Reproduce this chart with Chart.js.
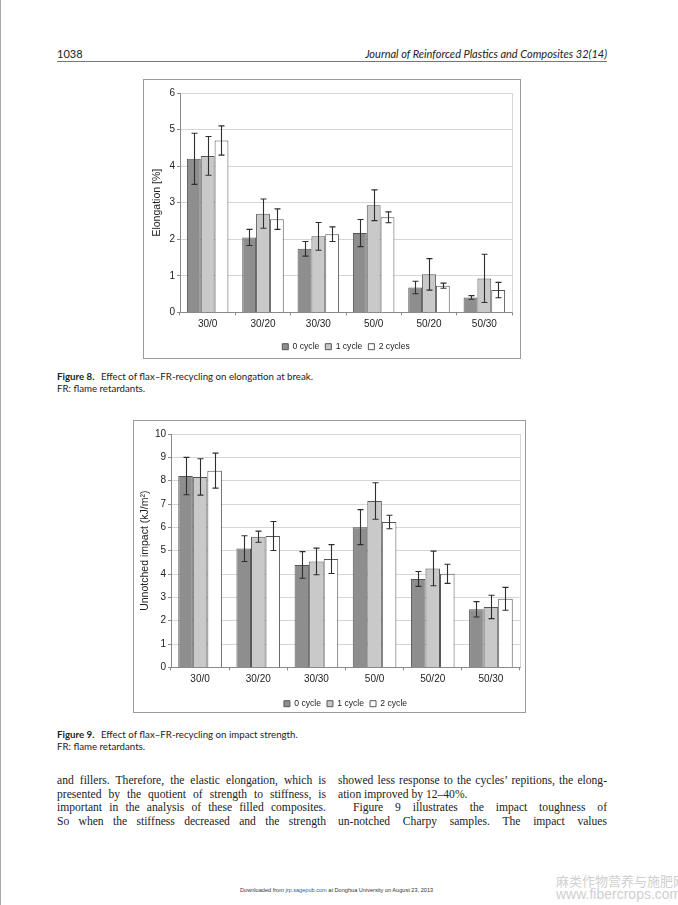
<!DOCTYPE html>
<html>
<head>
<meta charset="utf-8">
<title>Figures 8 and 9</title>
<script src="https://cdn.jsdelivr.net/npm/chart.js@4.4.0/dist/chart.umd.min.js"></script>
<style>
  body { margin: 0; width: 678px; height: 905px; background: #fff; position: relative; overflow: hidden; }
  .abs { position: absolute; }
  .edge { left: 0; top: 0; width: 1px; height: 905px; background: #aaa; }
  .head { top: 47px; font-family: Lato, "Open Sans", sans-serif; font-size: 11px; color: #222; white-space: nowrap; }
  .rule { left: 57px; top: 61px; width: 550px; height: 1px; background: #777; }
  .frame { border: 1px solid #9a9a9a; box-sizing: border-box; }
  .cap { left: 57px; font-family: Lato, "Open Sans", sans-serif; font-size: 9.7px; line-height: 11.5px; color: #222; white-space: nowrap; }
  .cap b { font-weight: bold; margin-right: 4px; }
  .col { font-family: "Liberation Serif", "DejaVu Serif", serif; font-size: 11.6px; line-height: 13.7px; color: #222; width: 269px; top: 774px; }
  .col div { text-align: justify; text-align-last: justify; }
  .col div.last { text-align-last: left; }
  .foot { left: 240px; top: 887px; font-family: "Liberation Sans", Arial, sans-serif; font-size: 5.6px; color: #333; white-space: nowrap; }
  .foot span { color: #2a5db0; }
  .wm { left: 556px; font-family: "Noto Sans CJK SC", "Liberation Sans", sans-serif; color: #d0d0d0; white-space: nowrap; }
</style>
</head>
<body>
<div class="abs edge"></div>
<div class="abs head" style="left:57px;">1038</div>
<div class="abs head" style="right:71px; font-style:italic;">Journal of Reinforced Plastics and Composites 32(14)</div>
<div class="abs rule"></div>

<canvas id="elongation" class="abs" width="378" height="282" style="left:143px; top:79px;"></canvas>
<div class="abs frame" style="left:143px; top:79px; width:378px; height:280px;"></div>
<div class="abs cap" style="top:371px;"><b>Figure 8.</b> Effect of flax&ndash;FR-recycling on elongation at break.<br>FR: flame retardants.</div>

<canvas id="impact" class="abs" width="393" height="298" style="left:133px; top:420px;"></canvas>
<div class="abs frame" style="left:133px; top:420px; width:393px; height:293px;"></div>
<div class="abs cap" style="top:729px;"><b>Figure 9.</b> Effect of flax&ndash;FR-recycling on impact strength.<br>FR: flame retardants.</div>

<div class="abs col" style="left:57px;">
  <div>and fillers. Therefore, the elastic elongation, which is</div>
  <div>presented by the quotient of strength to stiffness, is</div>
  <div>important in the analysis of these filled composites.</div>
  <div>So when the stiffness decreased and the strength</div>
</div>
<div class="abs col" style="left:338px;">
  <div>showed less response to the cycles&rsquo; repitions, the elong-</div>
  <div class="last">ation improved by 12&ndash;40%.</div>
  <div style="padding-left:15px;">Figure 9 illustrates the impact toughness of</div>
  <div>un-notched Charpy samples. The impact values</div>
</div>

<div class="abs foot">Downloaded from <span>jrp.sagepub.com</span> at Donghua University on August 23, 2013</div>
<div class="abs wm" style="top:871px; font-size:13px;">麻类作物营养与施肥网</div>
<div class="abs wm" style="top:886px; font-size:14px; font-family:'Liberation Sans', sans-serif;">www.fibercrops.com</div>

<script>
// categories (flax / FR content)
const categories = ['30/0', '30/20', '30/30', '50/0', '50/20', '50/30'];

// Figure 8 - elongation at break [%]
const elong0 = [4.20, 2.05, 1.74, 2.17, 0.68, 0.41];
const elong1 = [4.28, 2.70, 2.08, 2.93, 1.04, 0.93];
const elong2 = [4.70, 2.55, 2.14, 2.60, 0.73, 0.61];
const elongErr0 = [0.70, 0.22, 0.20, 0.37, 0.17, 0.05];
const elongErr1 = [0.53, 0.40, 0.38, 0.42, 0.43, 0.66];
const elongErr2 = [0.40, 0.28, 0.20, 0.15, 0.07, 0.21];
const elongTicks = [0, 1, 2, 3, 4, 5, 6];

// Figure 9 - unnotched impact (kJ/m2)
const impact0 = [8.20, 5.09, 4.39, 6.01, 3.79, 2.49];
const impact1 = [8.16, 5.60, 4.54, 7.13, 4.24, 2.59];
const impact2 = [8.43, 5.63, 4.64, 6.23, 4.01, 2.94];
const impactErr0 = [0.80, 0.55, 0.57, 0.75, 0.32, 0.33];
const impactErr1 = [0.78, 0.24, 0.57, 0.78, 0.74, 0.50];
const impactErr2 = [0.75, 0.62, 0.62, 0.29, 0.41, 0.49];
const impactTicks = [0, 1, 2, 3, 4, 5, 6, 7, 8, 9, 10];

const fillColors = ['#8e8e8e', '#c9c9c9', '#ffffff'];
const gridColor = '#d6d6d6';
const axisColor = '#8a8a8a';

// draws the whiskers on top of every bar, plus the faint right edge of the plot
const errorBars = {
  id: 'errorBars',
  beforeDatasetsDraw(chart) {
    const ctx = chart.ctx, a = chart.chartArea;
    ctx.save();
    ctx.strokeStyle = gridColor;
    ctx.lineWidth = 1;
    ctx.beginPath();
    ctx.moveTo(Math.round(a.right) + 0.5, a.top);
    ctx.lineTo(Math.round(a.right) + 0.5, a.bottom);
    ctx.stroke();
    ctx.restore();
  },
  afterDatasetsDraw(chart) {
    const ctx = chart.ctx;
    const y = chart.scales.y;
    ctx.save();
    ctx.strokeStyle = '#2e2e2e';
    ctx.lineWidth = 1.1;
    chart.data.datasets.forEach((ds, i) => {
      const meta = chart.getDatasetMeta(i);
      meta.data.forEach((bar, j) => {
        const v = ds.data[j], e = ds.errors[j];
        const top = y.getPixelForValue(v + e);
        const bot = y.getPixelForValue(v - e);
        const x = Math.round(bar.x) + 0.5;
        ctx.beginPath();
        ctx.moveTo(x, top); ctx.lineTo(x, bot);
        ctx.moveTo(x - 3, top); ctx.lineTo(x + 3, top);
        ctx.moveTo(x - 3, bot); ctx.lineTo(x + 3, bot);
        ctx.stroke();
      });
    });
    ctx.restore();
  }
};

function makeChart(id, series, errs, labels, ticks, title, opts) {
  const datasets = series.map((data, i) => ({
    label: labels[i],
    data: data,
    errors: errs[i],
    backgroundColor: fillColors[i],
    borderColor: '#555',
    borderWidth: 1,
    categoryPercentage: 0.75,
    barPercentage: 1
  }));
  return new Chart(document.getElementById(id), {
    type: 'bar',
    data: { labels: categories, datasets: datasets },
    plugins: [errorBars],
    options: {
      responsive: false,
      animation: false,
      layout: { padding: { top: opts.top, right: opts.right, left: 0, bottom: 0 } },
      plugins: {
        tooltip: { enabled: false },
        legend: {
          position: 'bottom',
          fullSize: false,
          labels: {
            boxWidth: 6, boxHeight: 6, padding: 6, color: '#222',
            font: { family: 'Liberation Sans', size: 8.6 }
          }
        }
      },
      scales: {
        x: {
          afterFit: s => { s.height = opts.xHeight; },
          grid: { drawOnChartArea: false, drawTicks: true, tickLength: 3, tickColor: axisColor },
          border: { color: axisColor },
          ticks: { color: '#222', padding: 3, font: { family: 'Liberation Sans', size: 10 } }
        },
        y: {
          min: 0,
          max: ticks[ticks.length - 1],
          afterFit: s => { s.width = opts.yWidth; },
          afterBuildTicks: s => { s.ticks = ticks.map(v => ({ value: v })); },
          grid: { color: gridColor, tickLength: 3, tickColor: axisColor },
          border: { color: axisColor },
          ticks: { color: '#222', padding: 2, font: { family: 'Liberation Sans', size: 10 } },
          title: {
            display: true, text: title, color: '#222',
            padding: { top: opts.titlePad, bottom: 0 },
            font: { family: 'Liberation Sans', size: 10.5 }
          }
        }
      }
    }
  });
}

makeChart('elongation',
  [elong0, elong1, elong2], [elongErr0, elongErr1, elongErr2],
  ['0 cycle', '1 cycle', '2 cycles'], elongTicks, 'Elongation [%]',
  { top: 14, right: 9, xHeight: 24, yWidth: 37, titlePad: 8 });

makeChart('impact',
  [impact0, impact1, impact2], [impactErr0, impactErr1, impactErr2],
  ['0 cycle', '1 cycle', '2 cycle'], impactTicks, 'Unnotched impact (kJ/m\u00b2)',
  { top: 14, right: 6, xHeight: 26, yWidth: 38, titlePad: 6 });
</script>
</body>
</html>
